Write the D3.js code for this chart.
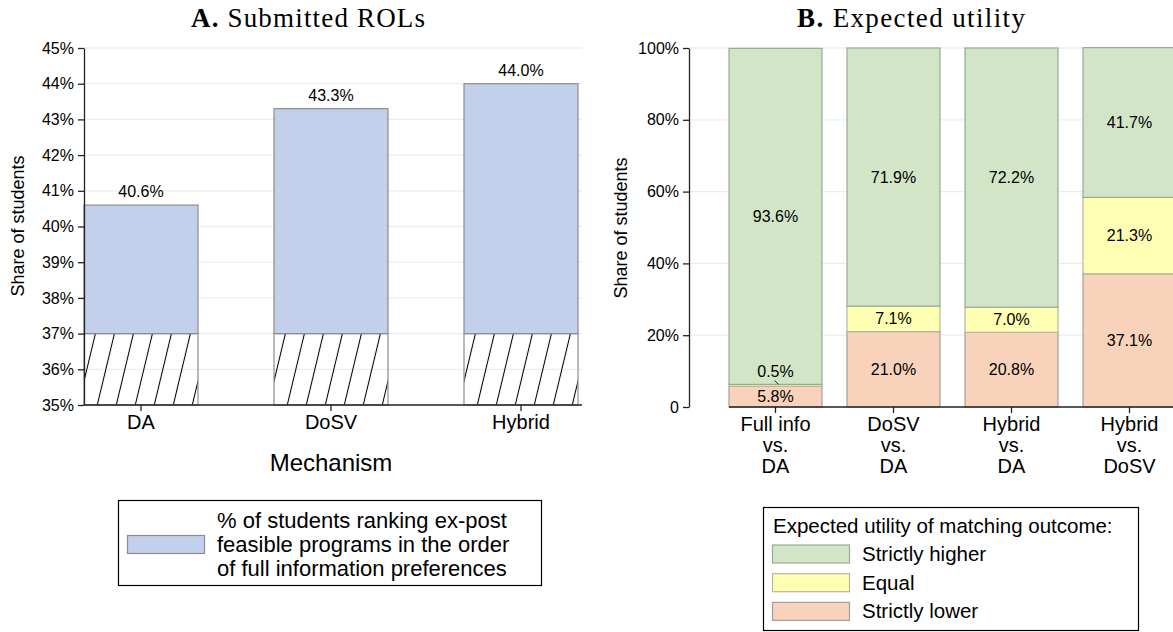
<!DOCTYPE html>
<html>
<head>
<meta charset="utf-8">
<script src="https://cdn.jsdelivr.net/npm/d3@7"></script>
<style>
    body { margin: 0; background: #fff; }
    svg text { font-family: "Liberation Sans", Arial, sans-serif; fill: #000; }
</style>
</head>
<body>
<div id="graph"></div>
<script>
"use strict";
(function() {
    // panel A data
    const mechanisms = ["DA", "DoSV", "Hybrid"];
    const rolShares = [40.6, 43.3, 44.0];
    const rolTicks = [35, 36, 37, 38, 39, 40, 41, 42, 43, 44, 45];
    const rolBreak = 37;

    // panel B data
    const comparisons = ["Full info vs. DA", "DoSV vs. DA", "Hybrid vs. DA", "Hybrid vs. DoSV"];
    const comparisonLines = [["Full info", "vs.", "DA"], ["DoSV", "vs.", "DA"],
                             ["Hybrid", "vs.", "DA"], ["Hybrid", "vs.", "DoSV"]];
    const lowerShare = [5.8, 21.0, 20.8, 37.1];
    const equalShare = [0.5, 7.1, 7.0, 21.3];
    const higherShare = [93.6, 71.9, 72.2, 41.7];
    const utilTicks = [0, 20, 40, 60, 80, 100];
    const outcomeNames = ["Strictly higher", "Equal", "Strictly lower"];

    const size = { width: 1173, height: 632 };
    const gridColor = "#e8eff3";
    const axisColor = "#222";

    let svg;

    window.addEventListener("load", init);

    function init() {
        svg = d3.select("#graph")
            .append("svg")
                .attr("width", size.width)
                .attr("height", size.height);

        // hatch for the axis break part of panel A
        svg.append("defs")
            .append("pattern")
                .attr("id", "hatch")
                .attr("patternUnits", "userSpaceOnUse")
                .attr("width", 19)
                .attr("height", 10)
                .attr("patternTransform", "skewX(-13.5)")
            .append("line")
                .attr("x1", 4.5).attr("y1", 0)
                .attr("x2", 4.5).attr("y2", 10)
                .attr("stroke", "#000")
                .attr("stroke-width", 1.1);

        drawPanelA();
        drawPanelB();
    }

    function drawPanelA() {
        let xScale = d3.scaleBand()
            .domain(mechanisms)
            .range([84, 578])
            .paddingInner(0.4)
            .paddingOuter(0);
        let yScale = d3.scaleLinear()
            .domain([35, 45])
            .range([405, 48]);

        svg.append("text")
            .attr("x", 308).attr("y", 27)
            .attr("text-anchor", "middle")
            .style("font-family", "'Liberation Serif', serif")
            .style("font-size", "27px")
            .attr("textLength", 234)
            .attr("lengthAdjust", "spacing")
            .html("<tspan font-weight='bold'>A.</tspan> Submitted ROLs");

        // grid
        svg.append("g").selectAll("line")
            .data(rolTicks.filter((t) => t > 35))
            .enter()
            .append("line")
                .attr("x1", 84).attr("x2", 582)
                .attr("y1", (d) => yScale(d)).attr("y2", (d) => yScale(d))
                .attr("stroke", gridColor)
                .attr("stroke-width", 1.3);

        let data = mechanisms.map((m, i) => ({ name: m, value: rolShares[i] }));

        svg.append("g").selectAll("rect")
            .data(data)
            .enter()
            .append("rect")
                .attr("x", (d) => xScale(d.name))
                .attr("y", (d) => yScale(d.value))
                .attr("width", xScale.bandwidth())
                .attr("height", (d) => yScale(rolBreak) - yScale(d.value))
                .attr("fill", "#c3d0eb")
                .attr("stroke", "#8c8c8c")
                .attr("stroke-width", 1.2);

        svg.append("g").selectAll("rect")
            .data(data)
            .enter()
            .append("rect")
                .attr("x", (d) => xScale(d.name))
                .attr("y", yScale(rolBreak))
                .attr("width", xScale.bandwidth())
                .attr("height", yScale(35) - yScale(rolBreak))
                .attr("fill", "url(#hatch)")
                .attr("stroke", "#8c8c8c")
                .attr("stroke-width", 1.2);

        svg.append("g").selectAll("text")
            .data(data)
            .enter()
            .append("text")
                .attr("x", (d) => xScale(d.name) + xScale.bandwidth() / 2)
                .attr("y", (d) => yScale(d.value) - 8)
                .attr("text-anchor", "middle")
                .style("font-size", "16px")
                .text((d) => d.value.toFixed(1) + "%");

        let yAxis = svg.append("g")
            .attr("transform", "translate(84,0)")
            .call(d3.axisLeft(yScale)
                .tickValues(rolTicks)
                .tickFormat((d) => d + "%")
                .tickSize(6)
                .tickPadding(4)
                .tickSizeOuter(0));
        styleAxis(yAxis, "16px");

        let xAxis = svg.append("g")
            .attr("transform", "translate(0,405)")
            .call(d3.axisBottom(xScale).tickSize(6).tickPadding(4).tickSizeOuter(0));
        xAxis.select(".domain").attr("d", "M84,0H582");
        styleAxis(xAxis, "20px");

        svg.append("text")
            .attr("transform", "translate(24,226) rotate(-90)")
            .attr("text-anchor", "middle")
            .style("font-size", "18px")
            .text("Share of students");

        svg.append("text")
            .attr("x", 331).attr("y", 471)
            .attr("text-anchor", "middle")
            .style("font-size", "24px")
            .text("Mechanism");

        // legend
        let lg = svg.append("g");
        lg.append("rect")
            .attr("x", 118.5).attr("y", 500.5)
            .attr("width", 423).attr("height", 85)
            .attr("fill", "#fff").attr("stroke", "#000").attr("stroke-width", 1.2);
        lg.append("rect")
            .attr("x", 127.5).attr("y", 535.5)
            .attr("width", 77).attr("height", 18)
            .attr("fill", "#c3d0eb").attr("stroke", "#8c8c8c").attr("stroke-width", 1.2);
        let legendLines = ["% of students ranking ex-post",
                           "feasible programs in the order",
                           "of full information preferences"];
        lg.selectAll("text.l")
            .data(legendLines)
            .enter()
            .append("text")
                .attr("x", 217)
                .attr("y", (d, i) => 528 + i * 24)
                .style("font-size", "22px")
                .text((d) => d);
    }

    function drawPanelB() {
        let xScale = d3.scaleBand()
            .domain(comparisons)
            .range([729, 1176])
            .paddingInner(0.212)
            .paddingOuter(0);
        let yScale = d3.scaleLinear()
            .domain([0, 100])
            .range([407, 48]);

        svg.append("text")
            .attr("x", 911).attr("y", 27)
            .attr("text-anchor", "middle")
            .style("font-family", "'Liberation Serif', serif")
            .style("font-size", "27px")
            .attr("textLength", 228)
            .attr("lengthAdjust", "spacing")
            .html("<tspan font-weight='bold'>B.</tspan> Expected utility");

        svg.append("g").selectAll("line")
            .data(utilTicks.filter((t) => t > 0))
            .enter()
            .append("line")
                .attr("x1", 689).attr("x2", 1173)
                .attr("y1", (d) => yScale(d)).attr("y2", (d) => yScale(d))
                .attr("stroke", gridColor)
                .attr("stroke-width", 1.3);

        let table = comparisons.map((c, i) => ({
            name: c, lower: lowerShare[i], equal: equalShare[i], higher: higherShare[i]
        }));
        let keys = ["lower", "equal", "higher"];
        let fills = { lower: "#f8d2ba", equal: "#ffffb4", higher: "#d2e6c7" };
        let strokes = { lower: "#a89e98", equal: "#b6b69a", higher: "#9aa996" };
        let series = d3.stack().keys(keys)(table);
        let segments = [];
        series.forEach((s) => s.forEach((p) => segments.push({ key: s.key, p: p })));

        svg.append("g").selectAll("rect")
            .data(segments)
            .enter()
            .append("rect")
                .attr("x", (d) => xScale(d.p.data.name))
                .attr("y", (d) => yScale(d.p[1]))
                .attr("width", xScale.bandwidth())
                .attr("height", (d) => yScale(d.p[0]) - yScale(d.p[1]))
                .attr("fill", (d) => fills[d.key])
                .attr("stroke", (d) => strokes[d.key])
                .attr("stroke-width", 1.2);

        svg.append("g").selectAll("text")
            .data(segments)
            .enter()
            .append("text")
                .attr("x", (d) => xScale(d.p.data.name) + xScale.bandwidth() / 2)
                .attr("y", (d) => {
                    let v = d.p[1] - d.p[0];
                    if (v < 2) return yScale(d.p[1]) - 13;
                    return yScale((d.p[0] + d.p[1]) / 2);
                })
                .attr("dy", "0.35em")
                .attr("text-anchor", "middle")
                .style("font-size", "16px")
                .text((d) => d.p.data[d.key].toFixed(1) + "%");

        // leader line for the small segment
        let small = segments.filter((d) => d.p[1] - d.p[0] < 2);
        svg.append("g").selectAll("line")
            .data(small)
            .enter()
            .append("line")
                .attr("x1", (d) => xScale(d.p.data.name) + xScale.bandwidth() / 2 - 1)
                .attr("y1", (d) => yScale(d.p[1]) - 4)
                .attr("x2", (d) => xScale(d.p.data.name) + xScale.bandwidth() / 2 + 3)
                .attr("y2", (d) => yScale(d.p[1]))
                .attr("stroke", "#222")
                .attr("stroke-width", 1);

        let yAxis = svg.append("g")
            .attr("transform", "translate(689,0)")
            .call(d3.axisLeft(yScale)
                .tickValues(utilTicks)
                .tickFormat((d) => d === 0 ? "0" : d + "%")
                .tickSize(6)
                .tickPadding(4)
                .tickSizeOuter(0));
        styleAxis(yAxis, "16px");

        let xAxis = svg.append("g")
            .attr("transform", "translate(0,407)")
            .call(d3.axisBottom(xScale).tickSize(6).tickPadding(4).tickSizeOuter(0));
        xAxis.select(".domain").attr("d", "M729,0H1173");
        styleAxis(xAxis, "20px");
        xAxis.selectAll(".tick text")
            .text(null)
            .selectAll("tspan")
            .data((d) => comparisonLines[comparisons.indexOf(d)])
            .enter()
            .append("tspan")
                .attr("x", 0)
                .attr("dy", (d, i) => i === 0 ? "0.71em" : "1.05em")
                .text((d) => d);

        svg.append("text")
            .attr("transform", "translate(627,228) rotate(-90)")
            .attr("text-anchor", "middle")
            .style("font-size", "18px")
            .text("Share of students");

        // legend
        let lg = svg.append("g");
        lg.append("rect")
            .attr("x", 763.5).attr("y", 507.5)
            .attr("width", 375).attr("height", 123)
            .attr("fill", "#fff").attr("stroke", "#000").attr("stroke-width", 1.2);
        lg.append("text")
            .attr("x", 773).attr("y", 533)
            .style("font-size", "20.5px")
            .text("Expected utility of matching outcome:");
        let legendKeys = ["higher", "equal", "lower"];
        let rows = lg.selectAll("g.row")
            .data(legendKeys)
            .enter()
            .append("g")
                .attr("transform", (d, i) => "translate(0," + (554 + i * 28.7) + ")");
        rows.append("rect")
            .attr("x", 772.5).attr("y", -9)
            .attr("width", 77).attr("height", 18)
            .attr("fill", (d) => fills[d])
            .attr("stroke", (d) => strokes[d])
            .attr("stroke-width", 1.2);
        rows.append("text")
            .attr("x", 862).attr("y", 7)
            .style("font-size", "20.5px")
            .text((d, i) => outcomeNames[i]);
    }

    function styleAxis(g, fontSize) {
        g.select(".domain").attr("stroke", axisColor).attr("stroke-width", 1.3);
        g.selectAll(".tick line").attr("stroke", axisColor).attr("stroke-width", 1.3);
        g.selectAll(".tick text")
            .style("font-size", fontSize)
            .style("font-family", "'Liberation Sans', Arial, sans-serif")
            .attr("fill", "#000");
    }
})();
</script>
</body>
</html>
